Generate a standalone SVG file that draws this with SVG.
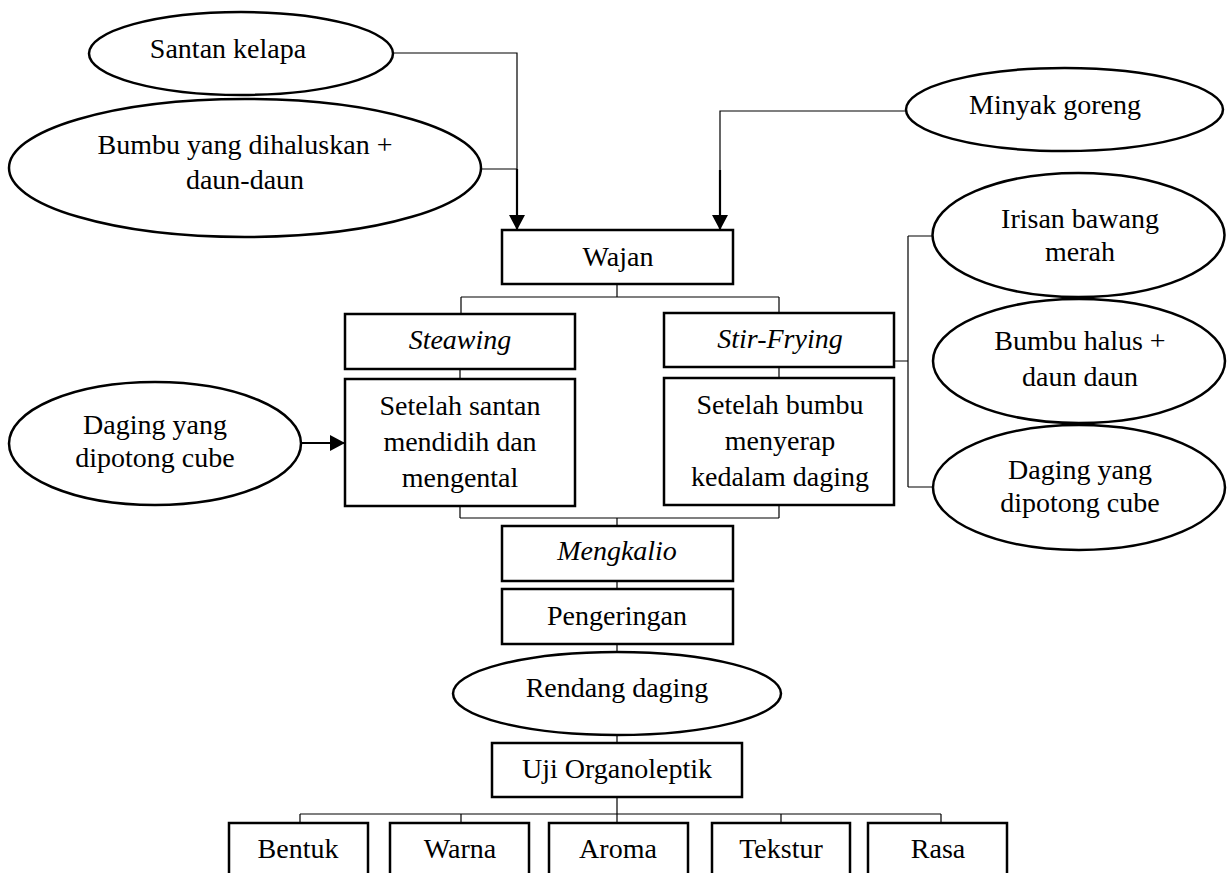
<svg xmlns="http://www.w3.org/2000/svg" width="1228" height="873" viewBox="0 0 1228 873">
<defs>
<marker id="arr" viewBox="0 0 15 16" markerWidth="15" markerHeight="16" refX="15" refY="8" orient="auto" markerUnits="userSpaceOnUse">
<path d="M0,0 L15,8 L0,16 z" fill="#000"/>
</marker>
</defs>
<style>
text{font-family:"Liberation Serif","Times New Roman",serif;font-size:28px;fill:#000;text-anchor:middle}
.it{font-style:italic}
.box{fill:#fff;stroke:#000;stroke-width:2.5}
.ell{fill:#fff;stroke:#000;stroke-width:2.5}
.ln{fill:none;stroke:#000;stroke-width:1.2}
.lnb{fill:none;stroke:#000;stroke-width:2.2}
</style>
<rect width="1228" height="873" fill="#fff"/>
<g id="connectors">
<path class="ln" d="M393,53 H517 V169"/>
<path class="ln" d="M481,169 H517"/>
<path class="lnb" d="M517,169 V230" marker-end="url(#arr)"/>
<path class="ln" d="M906,111 H720 V170"/>
<path class="lnb" d="M720,170 V230" marker-end="url(#arr)"/>
<path class="ln" d="M617,284 V297 M461,297 H779 M461,297 V314 M779,297 V313"/>
<path class="ln" d="M460,369 V379 M779,367 V378"/>
<path class="lnb" d="M300,443 H345" marker-end="url(#arr)"/>
<path class="ln" d="M894,361 H908 M908,236 V487 M908,236 H933 M908,487 H934"/>
<path class="ln" d="M460,506 V518 M779,505 V518 M460,518 H779 M617,518 V526"/>
<path class="ln" d="M617,581 V589 M617,644 V652 M617,735 V742"/>
<path class="ln" d="M617,797 V814 M300,814 H941 M300,814 V823 M461,814 V823 M617,814 V823 M781,814 V823 M941,814 V823"/>
</g>
<g id="santan"><ellipse class="ell" cx="241" cy="53.5" rx="152" ry="41.5"/><text x="228" y="58">Santan kelapa</text></g>
<g id="bumbu-dihaluskan"><ellipse class="ell" cx="245" cy="168" rx="236" ry="69"/><text x="245" y="154">Bumbu yang dihaluskan +</text><text x="245" y="189">daun-daun</text></g>
<g id="minyak"><ellipse class="ell" cx="1064.5" cy="109.5" rx="158.5" ry="41.5"/><text x="1055" y="114">Minyak goreng</text></g>
<g id="wajan"><rect class="box" x="502" y="230" width="231" height="54"/><text x="618" y="266">Wajan</text></g>
<g id="steawing"><rect class="box" x="345" y="314" width="230" height="55"/><text class="it" x="460" y="349">Steawing</text></g>
<g id="setelah-santan"><rect class="box" x="345" y="379" width="230" height="127"/><text x="460" y="415">Setelah santan</text><text x="460" y="451">mendidih dan</text><text x="460" y="487">mengental</text></g>
<g id="daging-kiri"><ellipse class="ell" cx="155" cy="443.5" rx="146" ry="61.5"/><text x="155" y="434">Daging yang</text><text x="155" y="467">dipotong cube</text></g>
<g id="stirfrying"><rect class="box" x="664" y="313" width="230" height="54"/><text class="it" x="780" y="348">Stir-Frying</text></g>
<g id="setelah-bumbu"><rect class="box" x="664" y="378" width="230" height="127"/><text x="780" y="414">Setelah bumbu</text><text x="780" y="450">menyerap</text><text x="780" y="486">kedalam daging</text></g>
<g id="irisan"><ellipse class="ell" cx="1078.5" cy="235" rx="146" ry="62"/><text x="1080" y="228">Irisan bawang</text><text x="1080" y="261">merah</text></g>
<g id="bumbu-halus"><ellipse class="ell" cx="1079" cy="361" rx="146" ry="62"/><text x="1080" y="350">Bumbu halus +</text><text x="1080" y="386">daun daun</text></g>
<g id="daging-kanan"><ellipse class="ell" cx="1079" cy="487.5" rx="146" ry="62.5"/><text x="1080" y="479">Daging yang</text><text x="1080" y="512">dipotong cube</text></g>
<g id="mengkalio"><rect class="box" x="502" y="526" width="231" height="55"/><text class="it" x="617" y="560">Mengkalio</text></g>
<g id="pengeringan"><rect class="box" x="502" y="589" width="231" height="55"/><text x="617" y="625">Pengeringan</text></g>
<g id="rendang"><ellipse class="ell" cx="617" cy="693.5" rx="164" ry="41.5"/><text x="617" y="697">Rendang daging</text></g>
<g id="uji"><rect class="box" x="492" y="743" width="250" height="54"/><text x="617" y="778">Uji Organoleptik</text></g>
<g id="bentuk"><rect class="box" x="229" y="823" width="139" height="70"/><text x="298" y="858">Bentuk</text></g>
<g id="warna"><rect class="box" x="390" y="823" width="139" height="70"/><text x="460" y="858">Warna</text></g>
<g id="aroma"><rect class="box" x="549" y="823" width="139" height="70"/><text x="618" y="858">Aroma</text></g>
<g id="tekstur"><rect class="box" x="712" y="823" width="138" height="70"/><text x="781" y="858">Tekstur</text></g>
<g id="rasa"><rect class="box" x="868" y="823" width="139" height="70"/><text x="938" y="858">Rasa</text></g>
</svg>
